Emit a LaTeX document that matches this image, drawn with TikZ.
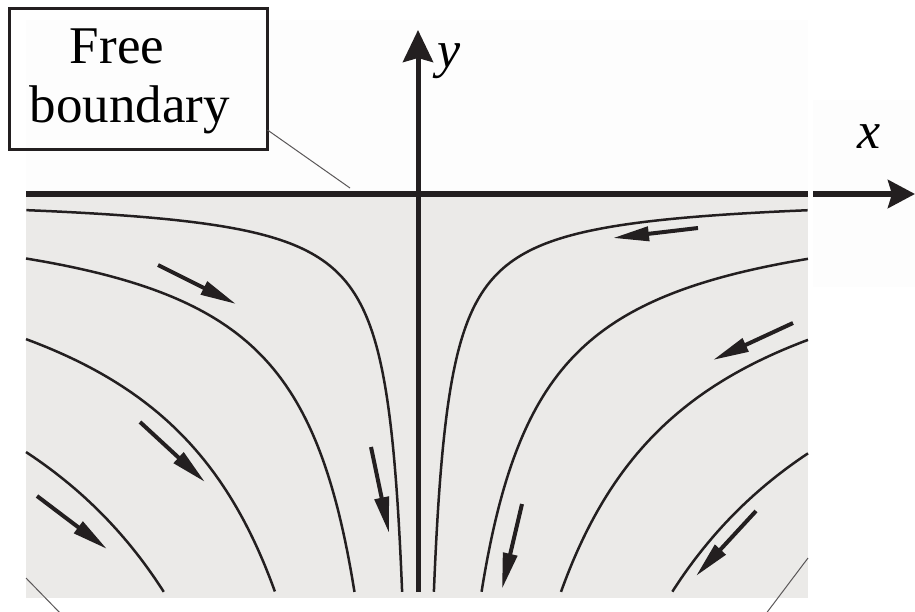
\documentclass[tikz,border=0pt]{standalone}
\usepackage{fontspec}
\setmainfont{Liberation Serif}
\newfontfamily\tnr{Liberation Serif}
\usetikzlibrary{arrows.meta}
\definecolor{ink}{RGB}{35,31,32}
\definecolor{fluid}{RGB}{235,234,232}
\definecolor{faint}{RGB}{253,253,253}
\begin{document}
\begin{tikzpicture}[x=1pt,y=-1pt,
  stream/.style={draw=ink, line width=2.5pt},
  flowarrow/.style={draw=ink, line width=4pt, -{Triangle[length=36pt,width=14pt]}},
  axisline/.style={draw=ink, line width=5pt, -{Stealth[length=32pt,width=30pt,inset=4pt]}},
  lbl/.style={font=\tnr\fontsize{52}{52}\selectfont\itshape, inner sep=0pt, anchor=base west},
  boxtext/.style={font=\tnr\fontsize{53}{53}\selectfont, inner sep=0pt, anchor=base},
  leader/.style={draw=ink!75, line width=1pt}]
\useasboundingbox (0,0) rectangle (915,611);
% faint paper tones
\fill[faint] (26,20) rectangle (808,191);
\fill[faint] (813,100) rectangle (915,287);
% fluid region
\fill[fluid] (26,197) rectangle (808,598);
% streamlines: hyperbolas |x|*depth = a^2
\foreach \n in {1,2,3,4}{
  \pgfmathsetmacro\a{79.5*\n}
  \pgfmathsetmacro\tl{ln(\a/392)}
  \pgfmathsetmacro\tr{ln(\a/390)}
  \pgfmathsetmacro\tb{ln(398/\a)}
  \draw[stream] plot[domain=\tl:\tb, samples=90, smooth] ({418-\a*exp(-\x)},{194+\a*exp(\x)});
  \draw[stream] plot[domain=\tr:\tb, samples=90, smooth] ({418+\a*exp(-\x)},{194+\a*exp(\x)});
}
% free boundary line
\coordinate (fl) at (26,194);
\coordinate (fr) at (808,194);
\draw[ink, line width=6pt] (fl) -- (fr);
% axes
\coordinate (xs) at (813,194);
\coordinate (xe) at (915,194);
\draw[axisline, line width=6pt, -{Stealth[length=27pt,width=28pt,inset=4pt]}] (xs) -- (xe);
\coordinate (yb) at (418,592);
\coordinate (yt) at (418,30);
\draw[axisline] (yb) -- (yt);
\node[lbl] (ylab) at (437,67) {y};
\node[lbl] (xlab) at (857,148) {x};
% flow direction arrows
\draw[flowarrow] (158,265) -- (236,304);
\draw[flowarrow] (140,422) -- (205,482);
\draw[flowarrow] (37,496) -- (107,549);
\draw[flowarrow] (371,447) -- (389,533);
\draw[flowarrow] (698,228) -- (613,238);
\draw[flowarrow] (793,323) -- (713,360);
\draw[flowarrow] (756,511) -- (696,576);
\draw[flowarrow] (522,504) -- (502,589);
% label box
\node[draw=ink, line width=3pt, minimum width=258pt, minimum height=141pt, inner sep=0pt, outer sep=0pt] (box) at (138.5,79) {};
\node[boxtext] (free) at (117,63) {Free};
\node[boxtext] (bnd) at (130,122) {boundary};
\coordinate (ls) at ([yshift=-51pt]box.east);
\coordinate (fb) at (350,188);
\draw[leader] (ls) -- (fb);
% corner leader lines
\coordinate (cl1) at (26,578);
\coordinate (cl2) at (62,615);
\draw[leader] (cl1) -- (cl2);
\coordinate (cr1) at (808,558);
\coordinate (cr2) at (765,615);
\draw[leader] (cr1) -- (cr2);
\end{tikzpicture}
\end{document}
